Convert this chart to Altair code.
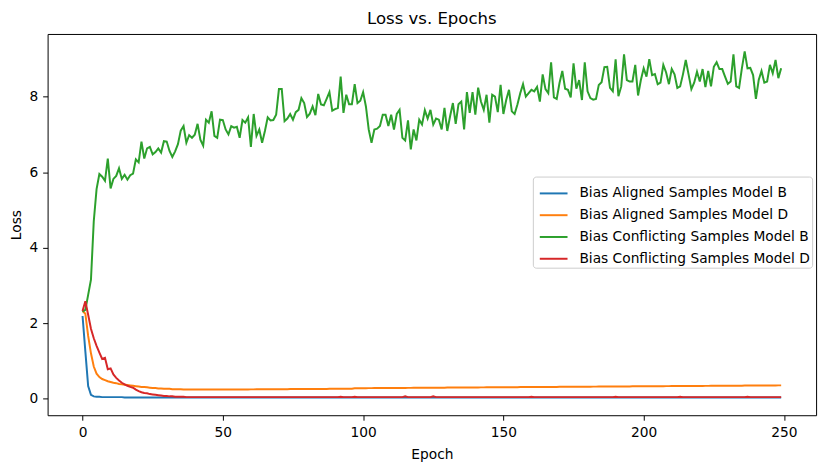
import altair as alt
import pandas as pd

series_names = [
    "Bias Aligned Samples Model B",
    "Bias Aligned Samples Model D",
    "Bias Conflicting Samples Model B",
    "Bias Conflicting Samples Model D",
]
series_colors = ["#1f77b4", "#ff7f0e", "#2ca02c", "#d62728"]

epochs = list(range(250))

aligned_b = [
    2.19, 1.25, 0.33, 0.10, 0.06, 0.05, 0.05, 0.04, 0.04, 0.04,
    0.04, 0.04, 0.04, 0.04, 0.04, 0.03, 0.03, 0.03, 0.03, 0.03,
    0.03, 0.03, 0.03, 0.03, 0.03, 0.03, 0.03, 0.03, 0.03, 0.03,
    0.03, 0.03, 0.03, 0.03, 0.03, 0.03, 0.03, 0.03, 0.03, 0.03,
    0.03, 0.03, 0.03, 0.03, 0.03, 0.03, 0.03, 0.03, 0.03, 0.03,
    0.03, 0.03, 0.03, 0.03, 0.03, 0.03, 0.03, 0.03, 0.03, 0.03,
    0.03, 0.03, 0.03, 0.03, 0.03, 0.03, 0.03, 0.03, 0.03, 0.03,
    0.03, 0.03, 0.03, 0.03, 0.03, 0.03, 0.03, 0.03, 0.03, 0.03,
    0.03, 0.03, 0.03, 0.03, 0.03, 0.03, 0.03, 0.03, 0.03, 0.03,
    0.03, 0.03, 0.03, 0.03, 0.03, 0.03, 0.03, 0.03, 0.03, 0.03,
    0.03, 0.03, 0.03, 0.03, 0.03, 0.03, 0.03, 0.03, 0.03, 0.03,
    0.03, 0.03, 0.03, 0.03, 0.03, 0.03, 0.03, 0.03, 0.03, 0.03,
    0.03, 0.03, 0.03, 0.03, 0.03, 0.03, 0.03, 0.03, 0.03, 0.03,
    0.03, 0.03, 0.03, 0.03, 0.03, 0.03, 0.03, 0.03, 0.03, 0.03,
    0.03, 0.03, 0.03, 0.03, 0.03, 0.03, 0.03, 0.03, 0.03, 0.03,
    0.03, 0.03, 0.03, 0.03, 0.03, 0.03, 0.03, 0.03, 0.03, 0.03,
    0.03, 0.03, 0.03, 0.03, 0.03, 0.03, 0.03, 0.03, 0.03, 0.03,
    0.03, 0.03, 0.03, 0.03, 0.03, 0.03, 0.03, 0.03, 0.03, 0.03,
    0.03, 0.03, 0.03, 0.03, 0.03, 0.03, 0.03, 0.03, 0.03, 0.03,
    0.03, 0.03, 0.03, 0.03, 0.03, 0.03, 0.03, 0.03, 0.03, 0.03,
    0.03, 0.03, 0.03, 0.03, 0.03, 0.03, 0.03, 0.03, 0.03, 0.03,
    0.03, 0.03, 0.03, 0.03, 0.03, 0.03, 0.03, 0.03, 0.03, 0.03,
    0.03, 0.03, 0.03, 0.03, 0.03, 0.03, 0.03, 0.03, 0.03, 0.03,
    0.03, 0.03, 0.03, 0.03, 0.03, 0.03, 0.03, 0.03, 0.03, 0.03,
    0.03, 0.03, 0.03, 0.03, 0.03, 0.03, 0.03, 0.03, 0.03, 0.03,
]

aligned_d = [
    2.32, 2.25, 1.66, 1.20, 0.85, 0.66, 0.57, 0.52, 0.49, 0.46,
    0.44, 0.42, 0.41, 0.39, 0.38, 0.37, 0.36, 0.35, 0.34, 0.33,
    0.32, 0.31, 0.31, 0.30, 0.29, 0.28, 0.28, 0.27, 0.27, 0.26,
    0.26, 0.26, 0.25, 0.25, 0.25, 0.25, 0.24, 0.24, 0.24, 0.24,
    0.240, 0.240, 0.240, 0.240, 0.240, 0.240, 0.240, 0.240, 0.240, 0.240,
    0.240, 0.240, 0.240, 0.241, 0.241, 0.241, 0.242, 0.242, 0.243, 0.244,
    0.245, 0.245, 0.246, 0.246, 0.247, 0.247, 0.248, 0.248, 0.249, 0.249,
    0.250, 0.250, 0.251, 0.251, 0.252, 0.252, 0.253, 0.253, 0.254, 0.254,
    0.255, 0.255, 0.256, 0.256, 0.257, 0.257, 0.258, 0.258, 0.259, 0.259,
    0.260, 0.260, 0.261, 0.261, 0.262, 0.262, 0.262, 0.275, 0.275, 0.276,
    0.277, 0.277, 0.278, 0.278, 0.279, 0.279, 0.280, 0.280, 0.281, 0.281,
    0.282, 0.282, 0.283, 0.283, 0.284, 0.284, 0.285, 0.285, 0.286, 0.286,
    0.287, 0.287, 0.288, 0.288, 0.289, 0.289, 0.290, 0.290, 0.291, 0.291,
    0.292, 0.292, 0.293, 0.293, 0.294, 0.294, 0.295, 0.295, 0.296, 0.296,
    0.297, 0.297, 0.298, 0.298, 0.299, 0.299, 0.300, 0.300, 0.301, 0.301,
    0.302, 0.302, 0.303, 0.303, 0.304, 0.304, 0.305, 0.305, 0.306, 0.306,
    0.307, 0.307, 0.308, 0.308, 0.309, 0.309, 0.310, 0.310, 0.311, 0.311,
    0.312, 0.312, 0.313, 0.313, 0.314, 0.314, 0.315, 0.315, 0.316, 0.316,
    0.317, 0.317, 0.318, 0.318, 0.319, 0.319, 0.320, 0.320, 0.321, 0.321,
    0.322, 0.322, 0.323, 0.323, 0.324, 0.324, 0.325, 0.325, 0.326, 0.326,
    0.327, 0.327, 0.328, 0.328, 0.329, 0.329, 0.330, 0.330, 0.331, 0.331,
    0.332, 0.332, 0.333, 0.333, 0.334, 0.334, 0.335, 0.335, 0.336, 0.336,
    0.337, 0.337, 0.338, 0.338, 0.339, 0.339, 0.340, 0.340, 0.341, 0.341,
    0.342, 0.342, 0.343, 0.343, 0.344, 0.344, 0.345, 0.345, 0.346, 0.346,
    0.347, 0.347, 0.348, 0.348, 0.349, 0.349, 0.350, 0.350, 0.351, 0.351,
]

conflicting_b = [
    2.30, 2.35, 2.75, 3.15, 4.70, 5.55, 5.95, 5.88, 5.77, 6.36,
    5.57, 5.82, 5.90, 6.10, 5.82, 5.93, 5.80, 5.92, 5.96, 6.34,
    6.26, 6.81, 6.36, 6.63, 6.67, 6.47, 6.53, 6.63, 6.52, 6.82,
    6.81, 6.56, 6.40, 6.55, 6.74, 7.10, 7.22, 6.78, 6.98, 6.91,
    6.99, 7.28, 6.86, 6.70, 7.39, 7.31, 7.61, 6.96, 6.91, 7.39,
    7.38, 7.13, 7.00, 7.22, 7.18, 7.20, 6.91, 7.38, 7.31, 7.45,
    6.67, 7.54, 6.96, 7.13, 6.78, 7.09, 7.45, 7.37, 7.38, 7.52,
    8.20, 8.20, 7.35, 7.42, 7.54, 7.39, 7.59, 7.65, 7.96, 7.83,
    7.46, 7.55, 7.74, 7.51, 8.07, 7.79, 7.77, 7.94, 8.12, 7.63,
    7.67, 7.70, 8.53, 7.57, 8.05, 7.80, 7.80, 8.33, 7.83, 7.89,
    8.12, 7.74, 7.13, 6.78, 7.13, 7.15, 7.22, 7.52, 7.52, 7.22,
    7.52, 7.13, 7.54, 7.65, 6.91, 6.84, 7.37, 6.60, 7.13, 6.84,
    7.39, 7.26, 7.64, 7.42, 7.65, 7.26, 7.42, 7.39, 7.13, 7.70,
    7.09, 7.48, 7.83, 7.28, 7.80, 7.87, 7.13, 8.12, 7.57, 8.12,
    7.52, 8.24, 7.87, 7.65, 8.05, 7.31, 8.05, 8.00, 7.59, 8.31,
    7.54, 7.91, 8.18, 7.61, 7.54, 7.79, 8.09, 8.33, 8.00, 8.09,
    8.18, 8.14, 8.26, 7.87, 8.59, 8.20, 8.09, 8.91, 7.98, 7.94,
    8.36, 8.68, 8.21, 8.18, 7.98, 8.88, 8.21, 8.44, 7.91, 8.91,
    8.14, 7.96, 7.92, 7.94, 8.31, 8.38, 8.78, 8.79, 8.23, 8.14,
    8.99, 8.01, 8.27, 9.12, 8.44, 8.40, 8.40, 8.84, 8.03, 8.44,
    8.75, 8.53, 8.99, 8.57, 8.60, 8.33, 8.37, 8.84, 8.64, 8.33,
    8.73, 8.59, 8.23, 8.27, 8.59, 8.97, 8.59, 8.20, 8.37, 8.66,
    8.40, 8.73, 8.25, 8.68, 8.27, 8.79, 8.91, 8.73, 8.73, 8.53,
    8.34, 8.40, 9.12, 8.27, 8.23, 8.75, 9.20, 8.75, 8.76, 8.57,
    7.94, 8.44, 8.68, 8.37, 8.40, 8.84, 8.62, 8.97, 8.49, 8.75,
]

conflicting_d = [
    2.32, 2.58, 2.22, 1.85, 1.60, 1.40, 1.22, 1.05, 1.08, 0.78,
    0.80, 0.64, 0.55, 0.48, 0.42, 0.38, 0.34, 0.31, 0.29, 0.24,
    0.20, 0.17, 0.15, 0.14, 0.12, 0.11, 0.10, 0.09, 0.08, 0.07,
    0.07, 0.06, 0.06, 0.05, 0.05, 0.05, 0.05, 0.04, 0.04, 0.04,
    0.04, 0.04, 0.04, 0.04, 0.04, 0.04, 0.04, 0.04, 0.04, 0.04,
    0.04, 0.04, 0.04, 0.04, 0.04, 0.04, 0.04, 0.04, 0.04, 0.04,
    0.04, 0.04, 0.04, 0.04, 0.04, 0.04, 0.04, 0.04, 0.04, 0.04,
    0.04, 0.04, 0.04, 0.04, 0.04, 0.04, 0.04, 0.04, 0.04, 0.04,
    0.04, 0.04, 0.04, 0.04, 0.04, 0.04, 0.04, 0.04, 0.04, 0.04,
    0.04, 0.04, 0.05, 0.04, 0.04, 0.04, 0.04, 0.05, 0.04, 0.04,
    0.04, 0.04, 0.04, 0.04, 0.04, 0.04, 0.04, 0.04, 0.04, 0.04,
    0.04, 0.04, 0.04, 0.04, 0.04, 0.06, 0.04, 0.04, 0.04, 0.04,
    0.04, 0.04, 0.04, 0.04, 0.04, 0.06, 0.04, 0.04, 0.04, 0.04,
    0.04, 0.04, 0.04, 0.04, 0.04, 0.04, 0.04, 0.04, 0.04, 0.04,
    0.04, 0.04, 0.04, 0.04, 0.04, 0.04, 0.04, 0.04, 0.04, 0.04,
    0.04, 0.04, 0.04, 0.04, 0.04, 0.04, 0.04, 0.04, 0.04, 0.04,
    0.05, 0.04, 0.04, 0.04, 0.04, 0.04, 0.04, 0.04, 0.04, 0.04,
    0.04, 0.04, 0.04, 0.04, 0.04, 0.04, 0.04, 0.04, 0.04, 0.04,
    0.04, 0.04, 0.04, 0.04, 0.04, 0.04, 0.04, 0.04, 0.04, 0.04,
    0.05, 0.04, 0.04, 0.04, 0.04, 0.04, 0.04, 0.04, 0.04, 0.04,
    0.04, 0.04, 0.04, 0.04, 0.04, 0.04, 0.04, 0.04, 0.04, 0.04,
    0.04, 0.04, 0.04, 0.05, 0.04, 0.04, 0.04, 0.04, 0.04, 0.04,
    0.04, 0.04, 0.04, 0.04, 0.04, 0.04, 0.04, 0.04, 0.04, 0.04,
    0.04, 0.04, 0.04, 0.04, 0.04, 0.04, 0.04, 0.05, 0.04, 0.04,
    0.04, 0.04, 0.04, 0.04, 0.04, 0.04, 0.04, 0.04, 0.04, 0.04,
]

x_ticks = [0, 50, 100, 150, 200, 250]
y_ticks = [0, 2, 4, 6, 8]

all_values = [aligned_b, aligned_d, conflicting_b, conflicting_d]
rows = []
for name, vals in zip(series_names, all_values):
    for e, v in zip(epochs, vals):
        rows.append({"epoch": e, "loss": v, "series": name})
df = pd.DataFrame(rows)

FONT = "DejaVu Sans"

chart = (
    alt.Chart(df)
    .mark_line(strokeWidth=2)
    .encode(
        x=alt.X(
            "epoch:Q",
            scale=alt.Scale(domain=[-12.45, 261.45], nice=False, zero=False),
            axis=alt.Axis(values=x_ticks, title="Epoch", format="d", titlePadding=9),
        ),
        y=alt.Y(
            "loss:Q",
            scale=alt.Scale(domain=[-0.44, 9.66], nice=False, zero=False),
            axis=alt.Axis(values=y_ticks, title="Loss", format="d", titlePadding=6),
        ),
        color=alt.Color(
            "series:N",
            scale=alt.Scale(domain=series_names, range=series_colors),
            legend=alt.Legend(
                title=None,
                orient="none",
                legendX=490,
                legendY=144,
                symbolType="stroke",
                symbolSize=784,
                symbolStrokeWidth=2,
                symbolOffset=4,
                labelFontSize=13.9,
                labelFont=FONT,
                labelColor="black",
                labelOffset=11,
                labelLimit=0,
                rowPadding=-1,
                padding=2,
                fillColor="white",
                strokeColor="#cccccc",
                cornerRadius=3,
            ),
        ),
    )
    .properties(
        width=776,
        height=385,
        autosize=alt.AutoSizeParams(type="none"),
        padding={"left": 40, "top": 24, "right": 9, "bottom": 45},
        title=alt.TitleParams(
            "Loss vs. Epochs",
            font=FONT,
            fontSize=16.7,
            fontWeight="normal",
            color="black",
            anchor="middle",
            baseline="alphabetic",
            offset=8,
            dy=15,
        ),
    )
    .configure(background="white")
    .configure_view(stroke="black", strokeWidth=1)
    .configure_axis(
        domain=False,
        grid=False,
        labelFont=FONT,
        labelFontSize=13.9,
        labelColor="black",
        labelPadding=5,
        labelFlush=False,
        labelOverlap=False,
        tickColor="black",
        tickSize=5,
        tickWidth=1,
        titleFont=FONT,
        titleFontSize=13.9,
        titleFontWeight="normal",
        titleColor="black",
    )
)

chart.save("out.html", embed_options={"renderer": "svg", "actions": False})
